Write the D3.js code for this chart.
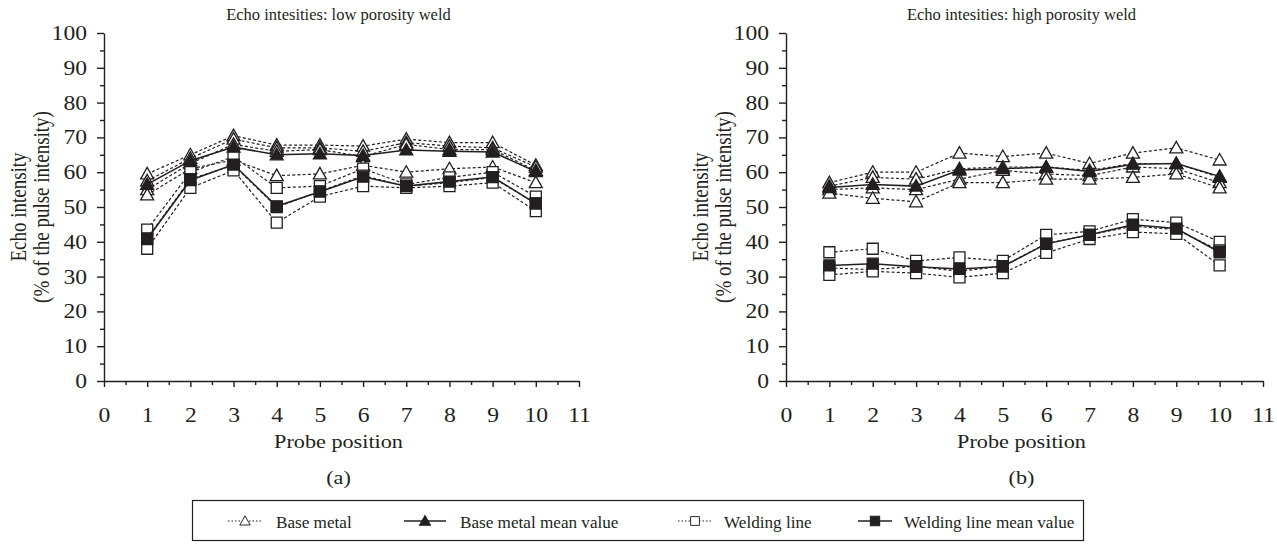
<!DOCTYPE html>
<html>
<head>
<meta charset="utf-8">
<script src="https://cdn.jsdelivr.net/npm/d3@7"></script>
<style>
  body { margin: 0; background: #fff; }
  svg { display: block; }
  svg text { font-family: "Liberation Serif", "Times New Roman", "DejaVu Serif", serif; }
</style>
</head>
<body>
<div id="root"></div>
<script>
const W = 1277, H = 552
const ink = "#231f20"
const SX = 1.17 // the original figure's type is stretched sideways

// data
const probe = [1, 2, 3, 4, 5, 6, 7, 8, 9, 10]
const xTicks = [0, 1, 2, 3, 4, 5, 6, 7, 8, 9, 10, 11]
const yTicks = [0, 10, 20, 30, 40, 50, 60, 70, 80, 90, 100]

const lowBase = [
    [59.5, 65, 70.5, 67.8, 67.8, 67.5, 69.5, 68.5, 68.5, 62],
    [57.5, 64, 69.5, 67, 67, 66, 68.5, 67.5, 67, 61.5],
    [55, 62.5, 68, 66, 66.5, 64.5, 68, 66.5, 66.5, 60.5],
    [53.5, 61, 63.5, 59, 59.5, 62, 60, 61, 61.5, 57]
]
const lowBaseMean = [56.5, 63.3, 67.2, 65, 65.3, 64.8, 66.4, 66, 65.8, 60.2]
const lowWeld = [
    [43.5, 60, 64.5, 55.5, 56, 61, 56.5, 58.5, 60, 53],
    [41, 58, 62, 50, 54.5, 59, 56, 57, 58.5, 51],
    [38, 55.5, 60.5, 45.5, 53, 56, 55.5, 56, 57, 48.8]
]
const lowWeldMean = [40.8, 57.7, 62.2, 50.2, 54.4, 58.7, 56, 57.3, 58.6, 51]

const highBase = [
    [57, 60, 60, 65.5, 64.5, 65.5, 62.5, 65.5, 67, 63.5],
    [56, 58.5, 58, 61, 61.5, 61.5, 60.5, 62.5, 62.5, 58.5],
    [55, 55.5, 55, 58, 60.5, 59.5, 59, 61.5, 61, 57],
    [54, 52.5, 51.5, 57, 57, 58, 58, 58.5, 59.5, 55.5]
]
const highBaseMean = [55.6, 56.5, 56, 60.6, 61, 61.5, 60.2, 62.3, 62.5, 58.8]
const highWeld = [
    [37, 38, 34.5, 35.5, 34.5, 42, 43, 46.5, 45.5, 40],
    [32.5, 32, 33, 31.5, 33, 39.5, 42, 44.5, 43.5, 37.5],
    [30.5, 31.5, 31, 29.8, 31, 36.8, 40.8, 42.8, 42.3, 33.2]
]
const highWeldMean = [33.2, 33.7, 32.8, 32.2, 32.9, 39.4, 42, 44.9, 43.8, 37]

const legendItems = ["Base metal", "Base metal mean value", "Welding line", "Welding line mean value"]

const panels = [
    {title: "Echo intesities: low porosity weld", tag: "(a)", x0: 104, x1: 579,
        base: lowBase, baseMean: lowBaseMean, weld: lowWeld, weldMean: lowWeldMean},
    {title: "Echo intesities: high porosity weld", tag: "(b)", x0: 786, x1: 1263,
        base: highBase, baseMean: highBaseMean, weld: highWeld, weldMean: highWeldMean}
]

const svg = d3.select("#root").append("svg")
    .attr("width", W)
    .attr("height", H)
    .attr("viewBox", "0 0 " + W + " " + H)

const y = d3.scaleLinear().domain([0, 100]).range([381, 33])

// marker shapes
const triPath = "M0,-6.5L6.5,5L-6.5,5Z"
const sqPath = "M-5.5,-5.5H5.5V5.5H-5.5Z"

function addText(g, x, yy, str, size, anchor, sx) {
    return g.append("text")
        .attr("transform", "translate(" + x + "," + yy + ") scale(" + (sx || SX) + ",1)")
        .attr("text-anchor", anchor || "middle")
        .attr("font-size", size)
        .attr("fill", ink)
        .text(str)
}

function drawSeries(g, x, values, shape, filled, dashed) {
    const line = d3.line()
        .x((d, i) => x(probe[i]))
        .y(d => y(d))
    g.append("path")
        .datum(values)
        .attr("d", line)
        .attr("fill", "none")
        .attr("stroke", ink)
        .attr("stroke-width", dashed ? 1.2 : 1.5)
        .attr("stroke-dasharray", dashed ? "3,2.2" : null)
    g.selectAll(null)
        .data(values)
        .join("path")
        .attr("d", shape)
        .attr("transform", (d, i) => "translate(" + x(probe[i]) + "," + y(d) + ")")
        .attr("fill", filled ? ink : "#fff")
        .attr("stroke", ink)
        .attr("stroke-width", 1.3)
}

panels.forEach(p => {
    const x = d3.scaleLinear().domain([0, 11]).range([p.x0, p.x1])
    const g = svg.append("g")
    const cx = (p.x0 + p.x1) / 2 - 3

    // y axis
    g.append("g")
        .attr("transform", "translate(" + p.x0 + ",0)")
        .call(d3.axisLeft(y).tickValues(yTicks).tickSize(7).tickSizeOuter(0))
        .call(a => a.selectAll("text")
            .attr("x", -17 / 1.18)
            .attr("transform", "scale(1.18,1)")
            .attr("font-size", 20).attr("fill", ink))
    g.append("g")
        .attr("transform", "translate(" + p.x0 + ",0)")
        .call(d3.axisLeft(y).tickValues(d3.range(5, 100, 10)).tickSize(4).tickFormat(""))
        .call(a => a.select(".domain").remove())

    // x axis
    g.append("g")
        .attr("transform", "translate(0," + y(0) + ")")
        .call(d3.axisBottom(x).tickValues(xTicks).tickSize(6).tickSizeOuter(0).tickPadding(21))
        .call(a => a.selectAll("text")
            .attr("transform", "scale(1.18,1)")
            .attr("font-size", 20).attr("fill", ink))
    g.append("g")
        .attr("transform", "translate(0," + y(0) + ")")
        .call(d3.axisBottom(x).tickValues(d3.range(0.5, 11, 1)).tickSize(4).tickFormat(""))
        .call(a => a.select(".domain").remove())

    g.selectAll(".domain, .tick line").attr("stroke", ink).attr("stroke-width", 1.4)

    // texts
    addText(g, cx, 20, p.title, 16.5, "middle", 1.0)
    addText(g, cx, 448, "Probe position", 19)
    addText(g, cx, 484, p.tag, 19)
    const ylab = g.append("text")
        .attr("transform", "translate(" + (p.x0 - 78) + ",207) scale(" + SX + ",1) rotate(-90)")
        .attr("text-anchor", "middle")
        .attr("font-size", 19)
        .attr("fill", ink)
    ylab.append("tspan").attr("x", 0).attr("dy", 0).text("Echo intensity")
    ylab.append("tspan").attr("x", 0).attr("dy", 19.5).text("(% of the pulse intensity)")

    // series
    const plot = g.append("g")
    p.base.forEach(s => drawSeries(plot, x, s, triPath, false, true))
    p.weld.forEach(s => drawSeries(plot, x, s, sqPath, false, true))
    drawSeries(plot, x, p.baseMean, triPath, true, false)
    drawSeries(plot, x, p.weldMean, sqPath, true, false)
})

// legend
const leg = svg.append("g")
leg.append("rect")
    .attr("x", 192.5).attr("y", 500.5)
    .attr("width", 891).attr("height", 40)
    .attr("fill", "none")
    .attr("stroke", ink)
    .attr("stroke-width", 1.2)

const legLine = [[228, 262], [404, 446], [678, 712], [858, 892]]
const legTextX = [276, 460, 724, 904]
const legShapes = [triPath, triPath, sqPath, sqPath]
legendItems.forEach((name, i) => {
    const gi = leg.append("g").attr("transform", "translate(0,521)")
    const dashed = i % 2 === 0
    const [a, b] = legLine[i]
    gi.append("line")
        .attr("x1", a).attr("x2", b)
        .attr("stroke", ink)
        .attr("stroke-width", dashed ? 1.2 : 1.5)
        .attr("stroke-dasharray", dashed ? "1.5,2" : null)
    gi.append("path")
        .attr("d", legShapes[i])
        .attr("transform", "translate(" + (a + b) / 2 + ",0) scale(" + (dashed ? 0.8 : 0.85) + ")")
        .attr("fill", dashed ? "#fff" : ink)
        .attr("stroke", ink)
        .attr("stroke-width", 1.2)
    addText(gi, legTextX[i], 6.5, name, 17.5, "start", 0.98)
})
</script>
</body>
</html>
